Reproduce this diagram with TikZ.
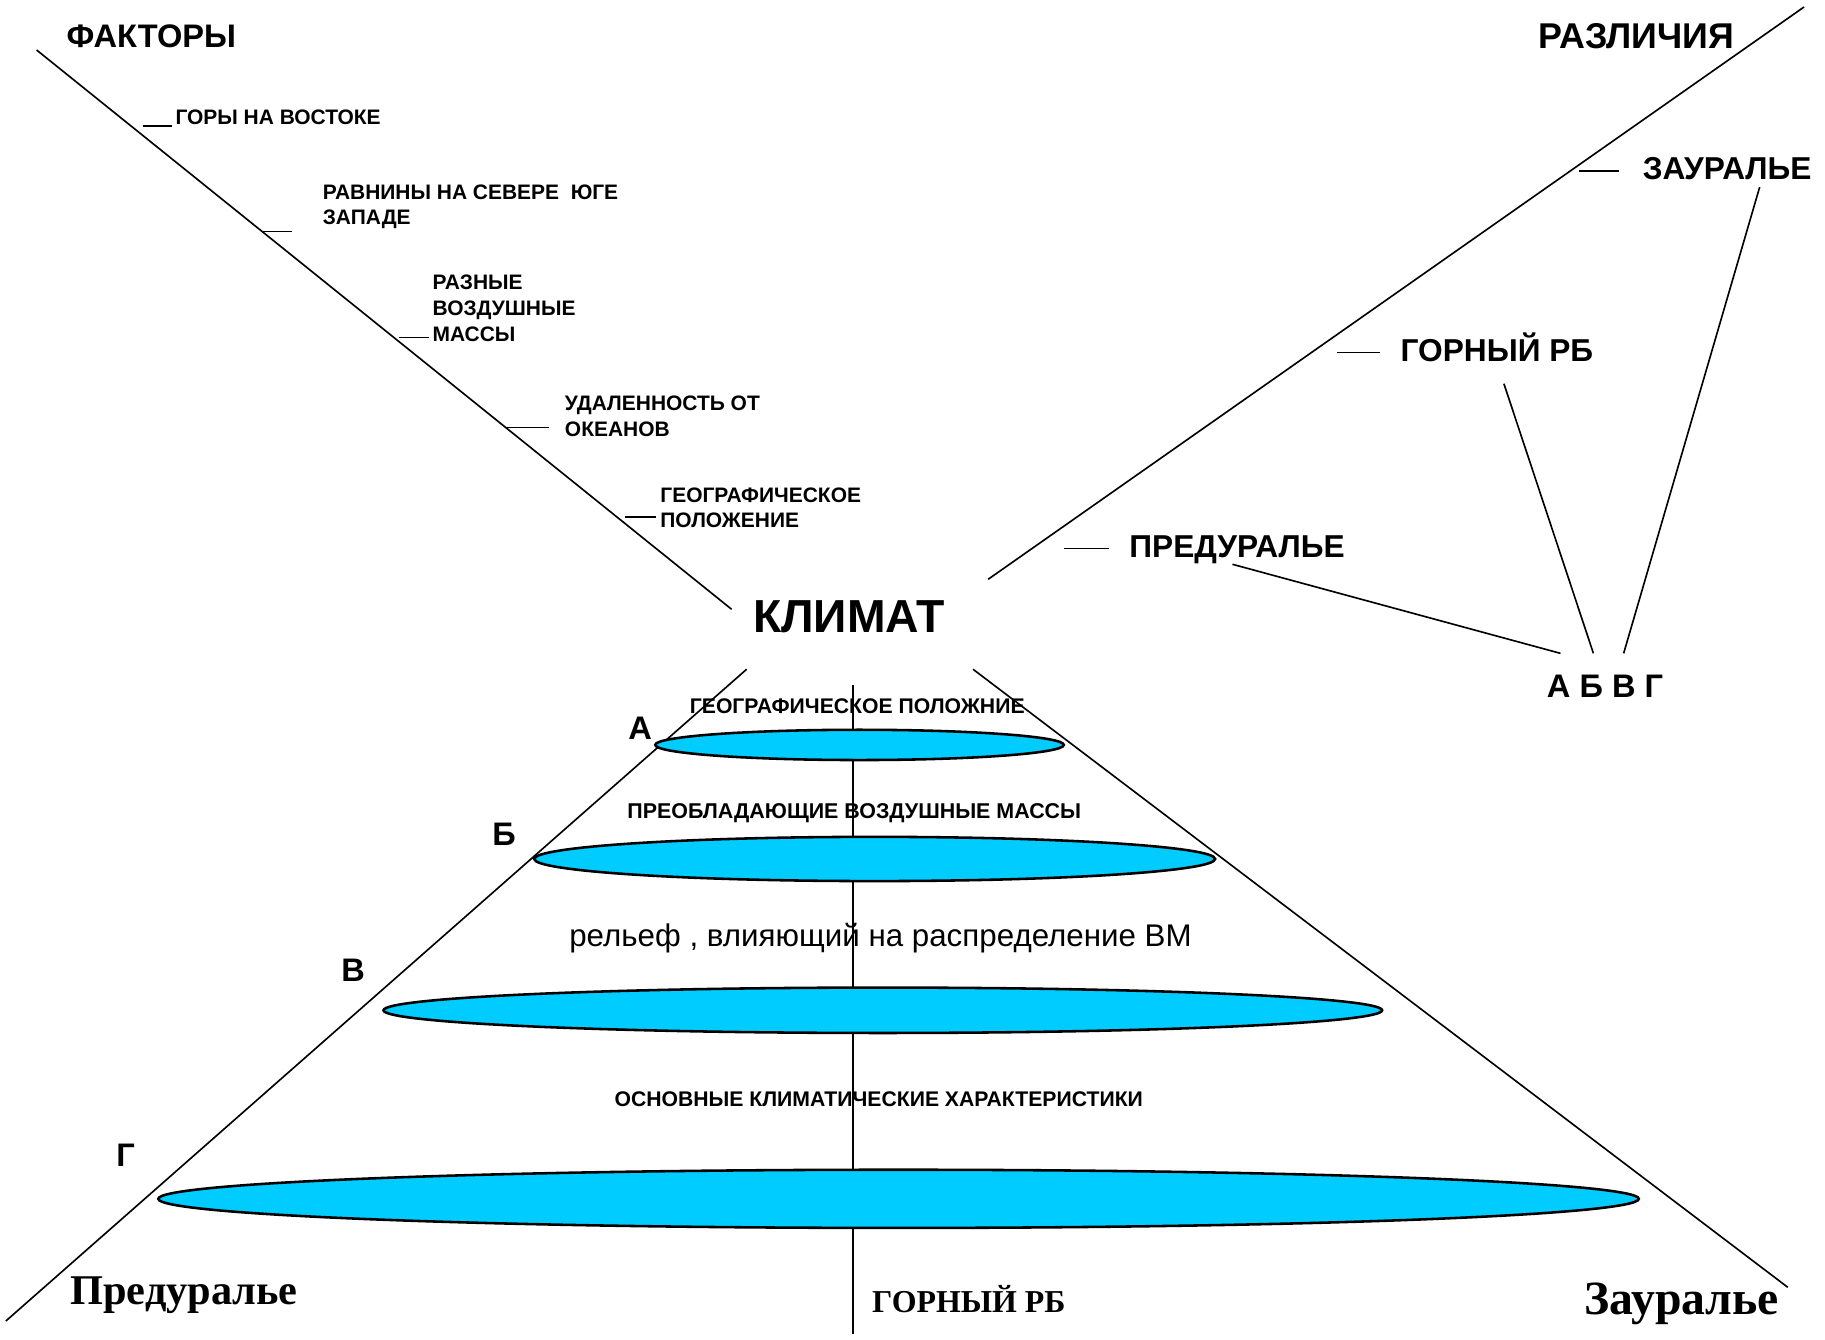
\documentclass[tikz,border=0pt]{standalone}
\usepackage{fontspec}
\setmainfont{Liberation Sans}
\newfontfamily\serifbold{Liberation Serif}
\usetikzlibrary{calc}
\definecolor{discblue}{RGB}{0,204,255}

\begin{document}
\begin{tikzpicture}[x=0.5pt,y=0.5pt,yscale=-1,xscale=1,
  axisline/.style={line width=0.7pt},
  headtxt/.style={font=\bfseries\fontsize{14}{16}\selectfont, inner sep=0pt},
  regiontxt/.style={font=\bfseries\fontsize{13.6}{16}\selectfont, inner sep=0pt},
  facttxt/.style={font=\bfseries\fontsize{9}{11}\selectfont, inner sep=0pt, align=left},
  layertxt/.style={font=\bfseries\fontsize{9.1}{11}\selectfont, inner sep=0pt},
  disc/.style={draw=black, line width=1.1pt, fill=discblue}]
\useasboundingbox (0,0) rectangle (1568,1151);

%Straight Lines (factors)
\draw[axisline] (31.5,43) -- (628.6,523.5) ;
\draw[axisline] (122.6,108) -- (147.6,108) ;
\draw[axisline] (226,198.8) -- (251,198.8) ;
\draw[axisline] (343,290) -- (369,290) ;
\draw[axisline] (435,367.3) -- (472,367.3) ;
\draw[axisline] (537,444) -- (564,444) ;
%Straight Lines (differences)
\draw[axisline] (849,497.7) -- (1550,6) ;
\draw[axisline] (1356.6,146.7) -- (1391,146.7) ;
\draw[axisline] (1149,303) -- (1185.4,303) ;
\draw[axisline] (914.5,471.4) -- (953,471.4) ;

% Text Node
\node[headtxt, anchor=base] (faktory) at (130,41) {ФАКТОРЫ};
% Text Node
\node[headtxt, font=\bfseries\fontsize{15.4}{17}\selectfont, anchor=base] (razlichiya) at (1406,42) {РАЗЛИЧИЯ};
% Text Node
\node[facttxt, anchor=base west] (gory) at (150.4,107) {ГОРЫ НА ВОСТОКЕ};
% Text Node
\node[facttxt, anchor=base west] (ravniny) at (277,193) {РАВНИНЫ НА СЕВЕРЕ~ ЮГЕ\\ЗАПАДЕ};
% Text Node
\node[facttxt, anchor=base west] (massy) at (371.3,293) {РАЗНЫЕ\\ВОЗДУШНЫЕ\\МАССЫ};
% Text Node
\node[facttxt, anchor=base west] (udal) at (485,375) {УДАЛЕННОСТЬ ОТ\\ОКЕАНОВ};
% Text Node
\node[facttxt, anchor=base west] (geopol) at (567,453.6) {ГЕОГРАФИЧЕСКОЕ\\ПОЛОЖЕНИЕ};
% Text Node
\node[font=\bfseries\fontsize{19.9}{22}\selectfont, inner sep=0pt, anchor=base] (klimat) at (729.5,543) {КЛИМАТ};

% Text Node
\node[regiontxt, anchor=base west] (zaural) at (1411,154) {ЗАУРАЛЬЕ};
% Text Node
\node[regiontxt, anchor=base west] (gornyi) at (1203,311) {ГОРНЫЙ РБ};
% Text Node
\node[regiontxt, anchor=base west] (predural) at (970,479) {ПРЕДУРАЛЬЕ};
% Text Node
\node[headtxt, anchor=base] (abvg) at (1379,599) {А Б В Г};

%Straight Lines (to А Б В Г)
\draw[axisline] ($(predural.south)+(-4,0)$) -- ($(abvg.north west)+(12,-18)$) ;
\draw[axisline] ($(gornyi.south)+(6,18)$) -- ($(abvg.north)+(-10,-18)$) ;
\draw[axisline] ($(zaural.south east)+(-45,6)$) -- ($(abvg.north)+(16,-18)$) ;

%Cone
\draw[axisline] (641.5,575) -- (5,1135) ;
\draw[axisline] (836,575) -- (1536,1106) ;
\draw[axisline] (732.6,588.5) -- (732.6,1146) ;

%Shapes: Ellipse
\draw[disc] (738.5,640) ellipse [x radius=87.75pt, y radius=6.5pt];
\draw[disc] (751.5,738) ellipse [x radius=146.25pt, y radius=9.5pt];
\draw[disc] (758.5,868) ellipse [x radius=214.5pt, y radius=9.75pt];
\draw[disc] (772,1030) ellipse [x radius=318pt, y radius=12.5pt];

% Text Node
\node[headtxt, anchor=base] (letA) at (550,635) {А};
\node[headtxt, anchor=base] (letB) at (433,726) {Б};
\node[headtxt, anchor=base] (letV) at (303.5,843) {В};
\node[headtxt, anchor=base] (letG) at (108,1002) {Г};

% Text Node
\node[layertxt, anchor=base] (layer1) at (736.5,613) {ГЕОГРАФИЧЕСКОЕ ПОЛОЖНИЕ};
% Text Node
\node[layertxt, font=\bfseries\fontsize{9.2}{11}\selectfont, anchor=base] (layer2) at (734,703) {ПРЕОБЛАДАЮЩИЕ ВОЗДУШНЫЕ МАССЫ};
% Text Node
\node[font=\fontsize{13.45}{15}\selectfont, inner sep=0pt, anchor=base] (layer3) at (756.5,813) {рельеф , влияющий на распределение ВМ};
% Text Node
\node[layertxt, anchor=base] (layer4) at (755,951) {ОСНОВНЫЕ КЛИМАТИЧЕСКИЕ ХАРАКТЕРИСТИКИ};

% Text Node
\node[font=\serifbold\bfseries\fontsize{18.2}{20}\selectfont, inner sep=0pt, anchor=base west] (predbot) at (60,1121) {Предуралье};
% Text Node
\node[font=\serifbold\bfseries\fontsize{13.7}{16}\selectfont, inner sep=0pt, anchor=base west] (gornbot) at (749,1128) {ГОРНЫЙ РБ};
% Text Node
\node[font=\serifbold\bfseries\fontsize{20.5}{22}\selectfont, inner sep=0pt, anchor=base west] (zaurbot) at (1361,1129) {Зауралье};

\end{tikzpicture}
\end{document}
